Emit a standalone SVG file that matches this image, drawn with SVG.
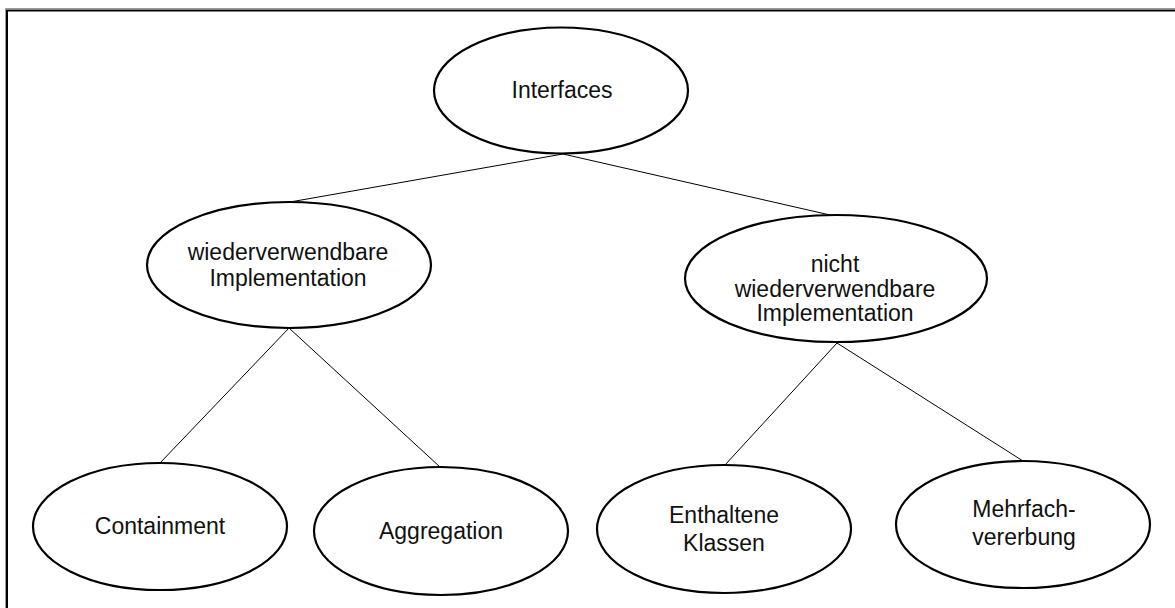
<svg xmlns="http://www.w3.org/2000/svg" width="1175" height="608" viewBox="0 0 1175 608">
  <style>
    .node ellipse { fill: #fff; stroke: #000; stroke-width: 2.2; }
    .node text { font-family: "Liberation Sans", Arial, sans-serif; font-size: 23px; fill: #111; text-anchor: middle; }
    .edges line { stroke: #000; stroke-width: 1; }
    .frame { fill: none; stroke: #000; stroke-width: 2; }
    .frame-shade { fill: none; stroke: #999; stroke-width: 1; }
  </style>
  <rect width="1175" height="608" fill="#fff"/>

  <!-- outer frame (top and left edges visible) -->
  <path class="frame-shade" d="M5.5 620 V8.5 H1180"/>
  <path class="frame" d="M7 620 V10.5 H1180"/>

  <!-- connectors -->
  <g id="edges" class="edges">
    <line x1="563" y1="154" x2="290" y2="202"/>
    <line x1="563" y1="154" x2="830" y2="215"/>
    <line x1="289" y1="328" x2="160" y2="463"/>
    <line x1="289" y1="328" x2="440" y2="467"/>
    <line x1="837" y1="343" x2="725" y2="465"/>
    <line x1="837" y1="343" x2="1023" y2="461"/>
  </g>

  <g id="interfaces" class="node">
    <ellipse cx="561" cy="90.5" rx="127" ry="63"/>
    <text x="562" y="98">Interfaces</text>
  </g>

  <g id="wiederverwendbar" class="node">
    <ellipse cx="289" cy="265" rx="142" ry="63"/>
    <text x="288" y="260">wiederverwendbare</text>
    <text x="288" y="286">Implementation</text>
  </g>

  <g id="nicht-wiederverwendbar" class="node">
    <ellipse cx="836" cy="278.5" rx="151" ry="63.5"/>
    <text x="835" y="272">nicht</text>
    <text x="835" y="297">wiederverwendbare</text>
    <text x="835" y="321">Implementation</text>
  </g>

  <g id="containment" class="node">
    <ellipse cx="160" cy="526.5" rx="127" ry="63.5"/>
    <text x="160" y="534">Containment</text>
  </g>

  <g id="aggregation" class="node">
    <ellipse cx="441" cy="531" rx="127" ry="64"/>
    <text x="441" y="539">Aggregation</text>
  </g>

  <g id="enthaltene-klassen" class="node">
    <ellipse cx="724" cy="529" rx="127" ry="64"/>
    <text x="724" y="523">Enthaltene</text>
    <text x="724" y="551">Klassen</text>
  </g>

  <g id="mehrfachvererbung" class="node">
    <ellipse cx="1023" cy="524.5" rx="127" ry="63.5"/>
    <text x="1024" y="517">Mehrfach-</text>
    <text x="1024" y="545">vererbung</text>
  </g>
</svg>
